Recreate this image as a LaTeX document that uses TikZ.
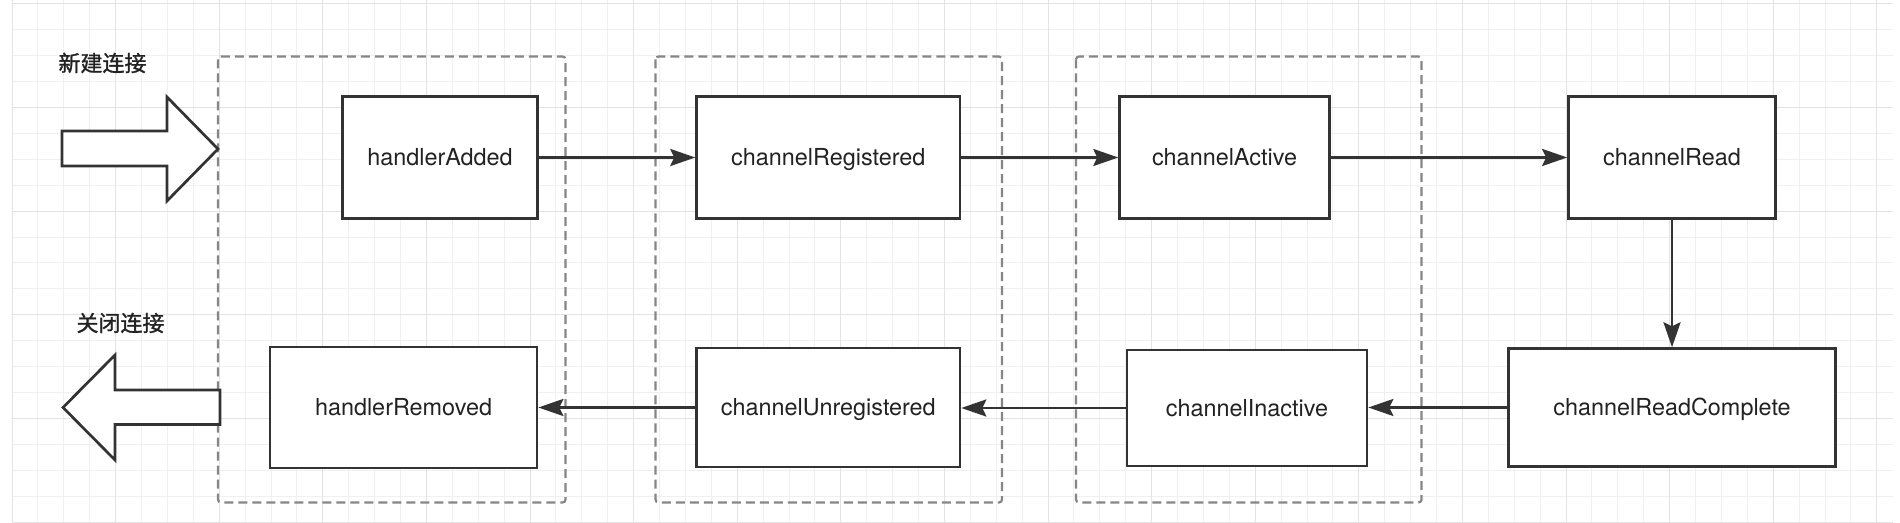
\documentclass[tikz,border=0pt]{standalone}
\usepackage{fontspec}
\setmainfont{TeX Gyre Heros}
\newfontfamily\cjk[FakeBold=1.2]{Noto Sans CJK SC}
\usetikzlibrary{arrows.meta}
\definecolor{gridminor}{HTML}{F0F0F0}
\definecolor{gridmajor}{HTML}{E3E3E3}
\definecolor{strokec}{HTML}{333333}
\definecolor{dashc}{HTML}{868686}
\definecolor{textc}{HTML}{222222}
\begin{document}
\begin{tikzpicture}[x=0.5pt,y=-0.5pt,
  box/.style={draw=strokec, line width=1.35pt, fill=white, inner sep=0pt,
    text height=8.4pt, text depth=0pt,
    font=\fontsize{11.7pt}{14pt}\selectfont, text=textc},
  group/.style={draw=dashc, line width=1.1pt, dash pattern=on 4.5pt off 2.5pt, rounded corners=1.5pt},
  flow/.style={draw=strokec, line width=1.35pt, -{Stealth[length=12.5pt,width=8.5pt,inset=2pt]}},
  bigarrow/.style={draw=strokec, line width=1.35pt, fill=white, line join=miter},
  cjklabel/.style={font=\cjk\fontsize{11pt}{13pt}\selectfont, text=textc, inner sep=0pt},
  gminor/.style={draw=gridminor, line width=0.5pt},
  gmajor/.style={draw=gridmajor, line width=0.5pt}
]
\useasboundingbox (0,0) rectangle (1900,523);
\fill[white] (0,0) rectangle (1900,523);
% grid
\foreach \k in {0,...,72} {\draw[gminor] ({12+25.9*\k},0) -- ({12+25.9*\k},522);}
\foreach \j in {0,...,20} {\draw[gminor] (12,{4+25.9*\j}) -- (1893,{4+25.9*\j});}
\foreach \k in {0,4,...,72} {\draw[gmajor] ({12+25.9*\k},0) -- ({12+25.9*\k},522);}
\foreach \j in {0,4,...,20} {\draw[gmajor] (12,{4+25.9*\j}) -- (1893,{4+25.9*\j});}

% dashed groups
\draw[group] (218,56.5) rectangle (565.5,502.5);
\draw[group] (655.5,56.5) rectangle (1002,502.5);
\draw[group] (1076,56.5) rectangle (1421.5,502.5);

% block arrows
\draw[bigarrow] (62,131) -- (167,131) -- (167,97) -- (218,149) -- (167,201) -- (167,166) -- (62,166) -- cycle;
\draw[bigarrow] (220,390) -- (115,390) -- (115,355) -- (63,407.5) -- (115,460) -- (115,424.5) -- (220,424.5) -- cycle;

% labels
\node[cjklabel] (newconn) at (102.5,63) {新建连接};
\node[cjklabel] (closeconn) at (120.5,323) {关闭连接};

% boxes
\node[box, minimum width=97.5pt, minimum height=60.8pt] (hA) at (440,157.5) {handlerAdded};
\node[box, minimum width=131.65pt, minimum height=60.8pt] (cR) at (828.3,157.5) {channelRegistered};
\node[box, minimum width=104.85pt, minimum height=60.8pt] (cA) at (1224.5,157.5) {channelActive};
\node[box, minimum width=103.5pt, minimum height=60.8pt] (cRd) at (1672,157.5) {channelRead};
\node[box, minimum width=163.5pt, minimum height=58.85pt] (cRC) at (1672,407.5) {channelReadComplete};
\node[box, minimum width=120pt, minimum height=58pt] (cI) at (1247,408) {channelInactive};
\node[box, minimum width=131.65pt, minimum height=59.35pt] (cU) at (828.3,407.5) {channelUnregistered};
\node[box, minimum width=133.5pt, minimum height=60.5pt] (hR) at (403.5,407.5) {handlerRemoved};

% connectors
\draw[flow] (hA.east) -- (cR.west);
\draw[flow] (cR.east) -- (cA.west);
\draw[flow] (cA.east) -- (cRd.west);
\draw[flow] (cRd.south) -- (cRd.south |- cRC.north);
\draw[flow] (cRC.west) -- (cRC.west -| cI.east);
\draw[flow] (cI.west) -- (cI.west -| cU.east);
\draw[flow] (cU.west) -- (hR.east);
\end{tikzpicture}
\end{document}
